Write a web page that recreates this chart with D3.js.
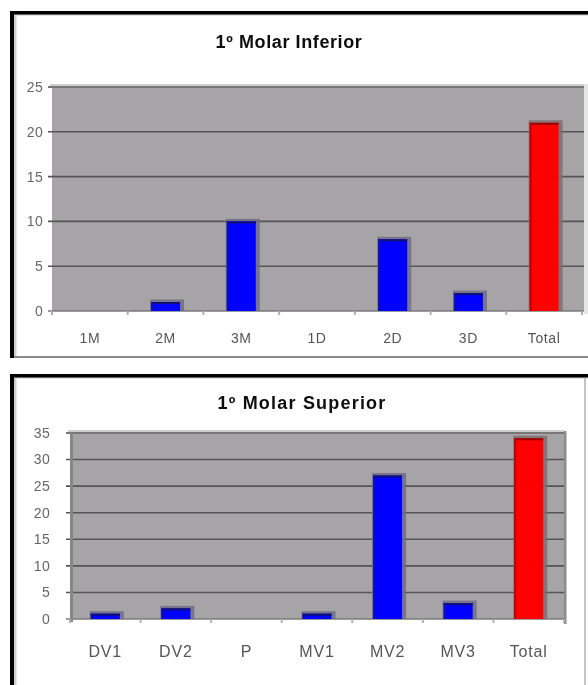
<!DOCTYPE html>
<html><head><meta charset="utf-8">
<script src="https://cdn.jsdelivr.net/npm/d3@7"></script>
<style>html,body{margin:0;padding:0;background:#fff}svg{display:block}</style>
</head><body>
<svg id="c" width="588" height="685"></svg>
<script>
const infCategories = ["1M","2M","3M","1D","2D","3D","Total"];
const infValues = [0,1,10,0,8,2,21];
const infTicks = [0,5,10,15,20,25];
const supCategories = ["DV1","DV2","P","MV1","MV2","MV3","Total"];
const supValues = [1,2,0,1,27,3,34];
const supTicks = [0,5,10,15,20,25,30,35];

const svg = d3.select("#c");
const font = "'Liberation Sans', Arial, sans-serif";
const defs = svg.append("defs");
defs.append("filter").attr("id","soft").append("feGaussianBlur").attr("stdDeviation",0.45);

function panel(cfg){
  const g = svg.append("g");
  g.append("rect").attr("x",cfg.fx).attr("y",cfg.fy).attr("width",cfg.fw).attr("height",cfg.fh).attr("fill","#fff");
  g.append("rect").attr("x",cfg.fx+4).attr("y",cfg.fy+3).attr("width",cfg.fw-4).attr("height",1.5).attr("fill","#c8c8c8");
  g.append("rect").attr("x",cfg.fx+4).attr("y",cfg.fy+3).attr("width",2.5).attr("height",cfg.fh-3).attr("fill","#cfcfcf");
  g.append("rect").attr("x",cfg.fx).attr("y",cfg.fy).attr("width",cfg.fw).attr("height",3.5).attr("fill","#000");
  g.append("rect").attr("x",cfg.fx).attr("y",cfg.fy).attr("width",4).attr("height",cfg.fh).attr("fill","#000");
  if(cfg.bottomLine) g.append("rect").attr("x",cfg.fx+4).attr("y",cfg.fy+cfg.fh-2).attr("width",cfg.fw-4).attr("height",2).attr("fill","#8a8a8a");
  if(cfg.rightLine) g.append("rect").attr("x",cfg.rightLine).attr("y",cfg.fy+4).attr("width",2).attr("height",cfg.fh).attr("fill","#c4c4c4");

  const x = d3.scaleBand().domain(cfg.cats).range([cfg.x0,cfg.x1]).padding(0);
  const y = d3.scaleLinear().domain([0,cfg.max]).range([cfg.y0,cfg.y1]);

  g.append("text").attr("x",cfg.tx).attr("y",cfg.ty).attr("text-anchor","middle")
    .attr("font-family",font).attr("font-weight","bold").attr("font-size",cfg.tsize)
    .attr("letter-spacing",cfg.tls).attr("filter","url(#soft)")
    .attr("fill","#111").text(cfg.title);

  g.append("rect").attr("x",cfg.x0-2).attr("y",y(cfg.max)-3).attr("width",cfg.x1-cfg.x0+cfg.wallExtra+2).attr("height",3).attr("fill","#cfcfcf");
  g.append("rect").attr("x",cfg.x0).attr("y",y(cfg.max)).attr("width",cfg.x1-cfg.x0+cfg.wallExtra).attr("height",cfg.y0-y(cfg.max)).attr("fill","#a6a4a6");
  g.selectAll("line.grid").data(cfg.ticks).join("line")
    .attr("x1",cfg.x0-4).attr("x2",cfg.x1+cfg.wallExtra).attr("y1",d=>y(d)).attr("y2",d=>y(d))
    .attr("stroke",d=>d===cfg.max?"#777":(d===0?"#7a7a7a":"#555")).attr("stroke-width",d=>d===cfg.max?2.2:1.6);
  if(cfg.leftWall) g.append("rect").attr("x",cfg.x0).attr("y",y(cfg.max)).attr("width",3).attr("height",cfg.y0-y(cfg.max)+3).attr("fill","#868686");
  if(cfg.rightWall) g.append("rect").attr("x",cfg.x1).attr("y",y(cfg.max)-2).attr("width",2.5).attr("height",cfg.y0-y(cfg.max)+7).attr("fill","#8c8c8c");
  if(cfg.rightEdge) g.append("rect").attr("x",cfg.x1+cfg.wallExtra).attr("y",y(cfg.max)-3).attr("width",4).attr("height",cfg.y0-y(cfg.max)+6).attr("fill","#e6e6e6");

  g.selectAll("text.yl").data(cfg.ticks).join("text")
    .attr("x",cfg.ylx).attr("y",d=>y(d)).attr("dy","0.35em").attr("text-anchor","end")
    .attr("font-family",font).attr("font-size",cfg.ysize).attr("letter-spacing",cfg.yls)
    .attr("filter","url(#soft)").attr("fill","#666").text(d=>d);

  const bounds = cfg.cats.map(c=>x(c)).concat([cfg.x1]);
  g.selectAll("line.xt").data(bounds).join("line")
    .attr("x1",d=>d).attr("x2",d=>d).attr("y1",cfg.y0).attr("y2",cfg.y0+4)
    .attr("stroke","#b0b0b0").attr("stroke-width",2);

  const bw = cfg.bw;
  const bars = g.selectAll("g.bar").data(cfg.vals.map((v,i)=>({c:cfg.cats[i],v,i}))).join("g");
  bars.filter(d=>d.v>0).each(function(d){
    const s = d3.select(this);
    const isTot = d.c==="Total";
    const cx = x(d.c)+x.bandwidth()/2;
    const top = y(d.v);
    s.append("rect").attr("x",cx-bw/2-1).attr("y",top-2.5).attr("width",bw+5).attr("height",cfg.y0-top+2.5)
      .attr("fill",isTot?"#7a6e70":"#6e6c86").attr("opacity",0.85);
    s.append("rect").attr("x",cx-bw/2).attr("y",top).attr("width",bw).attr("height",cfg.y0-top)
      .attr("fill",isTot?"#ff0000":"#0000ff");
    s.append("rect").attr("x",cx-bw/2).attr("y",top).attr("width",bw).attr("height",2)
      .attr("fill",isTot?"#9a0000":"#101070");
    s.append("rect").attr("x",cx-bw/2).attr("y",top).attr("width",2).attr("height",cfg.y0-top)
      .attr("fill",isTot?"#c00000":"#1010b0");
  });

  g.selectAll("text.xl").data(cfg.cats).join("text")
    .attr("x",d=>x(d)+x.bandwidth()/2).attr("y",cfg.xly).attr("dy","0.35em").attr("text-anchor","middle")
    .attr("font-family",font).attr("font-size",cfg.xsize).attr("letter-spacing",cfg.xls)
    .attr("filter","url(#soft)").attr("fill","#555").text(d=>d);
}

panel({fx:10,fy:11,fw:578,fh:347,bottomLine:true,
  cats:infCategories,vals:infValues,ticks:infTicks,max:25,
  x0:52,x1:582,y0:311,y1:87,wallExtra:2,rightEdge:true,
  title:"1º Molar Inferior",tx:289,ty:48,tsize:18,tls:0.6,
  ylx:43,ysize:14,yls:0.3,xly:338,xsize:14,xls:0.6,bw:29});

panel({fx:10,fy:374,fw:578,fh:320,rightLine:584,
  cats:supCategories,vals:supValues,ticks:supTicks,max:35,
  x0:70,x1:564,y0:619,y1:433,wallExtra:0,leftWall:true,rightWall:true,
  title:"1º Molar Superior",tx:302,ty:409,tsize:18,tls:1.2,
  ylx:50,ysize:14,yls:0.3,xly:651,xsize:16,xls:0.8,bw:29});
</script>
</body></html>
